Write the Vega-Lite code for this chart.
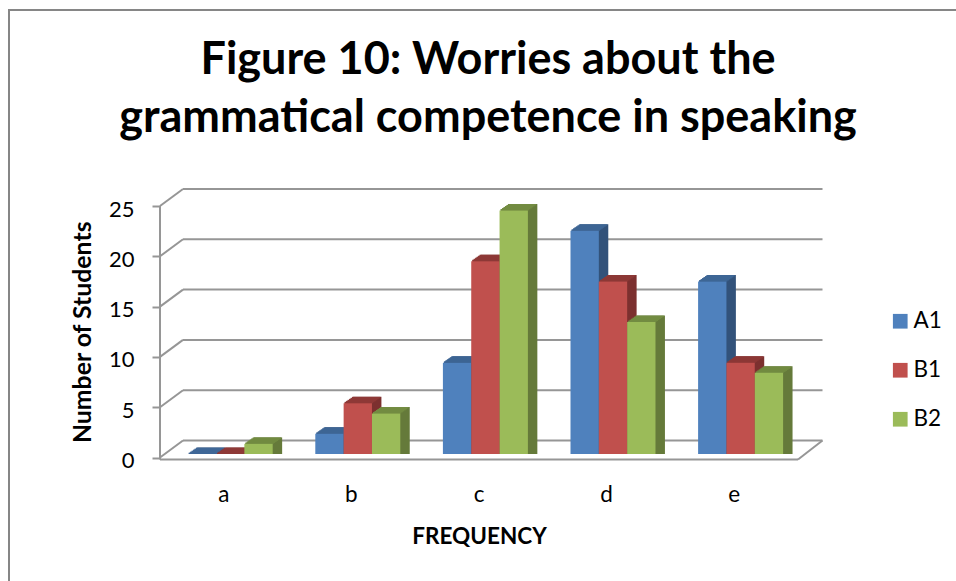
{"$schema":"https://vega.github.io/schema/vega-lite/v6.json","width":638,"height":251.5,"autosize":"none","padding":{"left":160,"top":206,"right":158,"bottom":123.5},"background":"white","view":{"stroke":null},
"title":{"text":["Figure 10: Worries about the","grammatical competence in speaking"],"font":"Lato","fontSize":45,"fontWeight":"bold","color":"#000000","lineHeight":58,"anchor":"middle","frame":"group","dx":9,"offset":-132},
"datasets":{"bars":[{"c":"a","s":"A1","v":0},{"c":"a","s":"B1","v":0},{"c":"a","s":"B2","v":1},{"c":"b","s":"A1","v":2},{"c":"b","s":"B1","v":5},{"c":"b","s":"B2","v":4},{"c":"c","s":"A1","v":9},{"c":"c","s":"B1","v":19},{"c":"c","s":"B2","v":24},{"c":"d","s":"A1","v":22},{"c":"d","s":"B1","v":17},{"c":"d","s":"B2","v":13},{"c":"e","s":"A1","v":17},{"c":"e","s":"B1","v":9},{"c":"e","s":"B2","v":8}],"grid":[{"g":0},{"g":5},{"g":10},{"g":15},{"g":20},{"g":25}]},
"resolve":{"scale":{"y":"independent"},"axis":{"y":"independent"}},
"layer":[
{"data":{"name":"grid"},"encoding":{"y":{"field":"g","type":"quantitative","scale":{"domain":[0,25]},"axis":{"title":"Number of Students","titleFont":"Lato","titleFontSize":24.8,"titleFontWeight":"bold","titleColor":"#000000","titlePadding":13,"labelFont":"Lato","labelFontSize":22,"labelColor":"#000000","labelPadding":18,"labelOffset":3,"tickSize":8,"tickColor":"#969696","tickWidth":2,"domain":false,"grid":false,"values":[0,5,10,15,20,25]}}},
"layer":[
{"mark":{"type":"rule","color":"#969696","strokeWidth":2,"yOffset":-17},"encoding":{"x":{"value":23},"x2":{"value":662.5}}},
{"mark":{"type":"rule","color":"#969696","strokeWidth":2,"y2Offset":-17},"encoding":{"x":{"value":0},"x2":{"value":23},"y2":{"field":"g"}}}
]},
{"data":{"values":[{"f":0}]},"encoding":{"y":{"datum":0,"type":"quantitative","scale":{"domain":[0,25]},"axis":null}},
"layer":[
{"mark":{"type":"rule","color":"#969696","strokeWidth":2,"yOffset":2},"encoding":{"x":{"value":0},"x2":{"value":638}}},
{"mark":{"type":"rule","color":"#969696","strokeWidth":2,"yOffset":2,"y2Offset":-17},"encoding":{"x":{"value":638},"x2":{"value":662.5},"y2":{"datum":0}}},
{"mark":{"type":"rule","color":"#969696","strokeWidth":2,"yOffset":2},"encoding":{"x":{"value":0},"y2":{"datum":25}}},
{"mark":{"type":"rule","color":"#868686","strokeWidth":2},"encoding":{"x":{"value":-151},"y":{"value":-196},"y2":{"value":375}}},
{"mark":{"type":"rule","color":"#868686","strokeWidth":2},"encoding":{"x":{"value":-152},"x2":{"value":796},"y":{"value":-196}}}
]},
{"data":{"name":"bars"},"encoding":{"x":{"field":"c","type":"nominal","scale":{"paddingInner":0,"paddingOuter":0},"axis":{"title":"FREQUENCY","titleFont":"Lato","titleFontSize":22.5,"titleFontWeight":"bold","titleColor":"#000000","titlePadding":19,"labelFont":"Lato","labelFontSize":22.5,"labelColor":"#000000","labelAngle":0,"labelPadding":26,"ticks":false,"domain":false}},"y":{"field":"v","type":"quantitative","stack":null,"scale":{"domain":[0,25],"range":[248,-5.75]},"axis":null}},
"layer":[
{"transform":[{"filter":"datum.s==='A1'"}],"layer":[
{"mark":{"type":"bar","width":28.33,"color":"#32527a","xOffset":-20.88,"yOffset":-0.72,"y2Offset":-0.72}},
{"mark":{"type":"bar","width":28.33,"color":"#32527a","xOffset":-19.83,"yOffset":-1.44,"y2Offset":-1.44}},
{"mark":{"type":"bar","width":28.33,"color":"#32527a","xOffset":-18.78,"yOffset":-2.16,"y2Offset":-2.16}},
{"mark":{"type":"bar","width":28.33,"color":"#32527a","xOffset":-17.73,"yOffset":-2.88,"y2Offset":-2.88}},
{"mark":{"type":"bar","width":28.33,"color":"#32527a","xOffset":-16.68,"yOffset":-3.6,"y2Offset":-3.6}},
{"mark":{"type":"bar","width":28.33,"color":"#32527a","xOffset":-15.63,"yOffset":-4.32,"y2Offset":-4.32}},
{"mark":{"type":"bar","width":28.33,"color":"#32527a","xOffset":-14.58,"yOffset":-5.04,"y2Offset":-5.04}},
{"mark":{"type":"bar","width":28.33,"color":"#32527a","xOffset":-13.53,"yOffset":-5.76,"y2Offset":-5.76}},
{"mark":{"type":"bar","width":28.33,"color":"#32527a","xOffset":-12.48,"yOffset":-6.48,"y2Offset":-6.48}},
{"mark":{"type":"bar","width":28.33,"color":"#3f6797","xOffset":-20.91,"yOffset":-1.4,"y2Offset":0},"encoding":{"y2":{"field":"v"}}},
{"mark":{"type":"bar","width":28.33,"color":"#3f6797","xOffset":-19.45,"yOffset":-2.4,"y2Offset":-1},"encoding":{"y2":{"field":"v"}}},
{"mark":{"type":"bar","width":28.33,"color":"#3f6797","xOffset":-17.99,"yOffset":-3.4,"y2Offset":-2},"encoding":{"y2":{"field":"v"}}},
{"mark":{"type":"bar","width":28.33,"color":"#3f6797","xOffset":-16.53,"yOffset":-4.4,"y2Offset":-3},"encoding":{"y2":{"field":"v"}}},
{"mark":{"type":"bar","width":28.33,"color":"#3f6797","xOffset":-15.08,"yOffset":-5.4,"y2Offset":-4},"encoding":{"y2":{"field":"v"}}},
{"mark":{"type":"bar","width":28.33,"color":"#3f6797","xOffset":-13.62,"yOffset":-6.4,"y2Offset":-5},"encoding":{"y2":{"field":"v"}}},
{"mark":{"type":"bar","width":28.33,"xOffset":-21.93},"encoding":{"color":{"field":"s","type":"nominal","scale":{"domain":["A1","B1","B2"],"range":["#4F81BD","#C0504D","#9BBB59"]},"legend":{"title":null,"orient":"none","legendX":729,"legendY":104,"symbolType":"square","symbolSize":216,"symbolStrokeWidth":0,"labelFont":"Lato","labelFontSize":22.5,"labelColor":"#000000","rowPadding":26,"labelOffset":2}}}}
]},
{"transform":[{"filter":"datum.s==='B1'"}],"layer":[
{"mark":{"type":"bar","width":28.33,"color":"#7c302f","xOffset":7.45,"yOffset":-0.72,"y2Offset":-0.72}},
{"mark":{"type":"bar","width":28.33,"color":"#7c302f","xOffset":8.5,"yOffset":-1.44,"y2Offset":-1.44}},
{"mark":{"type":"bar","width":28.33,"color":"#7c302f","xOffset":9.55,"yOffset":-2.16,"y2Offset":-2.16}},
{"mark":{"type":"bar","width":28.33,"color":"#7c302f","xOffset":10.6,"yOffset":-2.88,"y2Offset":-2.88}},
{"mark":{"type":"bar","width":28.33,"color":"#7c302f","xOffset":11.65,"yOffset":-3.6,"y2Offset":-3.6}},
{"mark":{"type":"bar","width":28.33,"color":"#7c302f","xOffset":12.7,"yOffset":-4.32,"y2Offset":-4.32}},
{"mark":{"type":"bar","width":28.33,"color":"#7c302f","xOffset":13.75,"yOffset":-5.04,"y2Offset":-5.04}},
{"mark":{"type":"bar","width":28.33,"color":"#7c302f","xOffset":14.8,"yOffset":-5.76,"y2Offset":-5.76}},
{"mark":{"type":"bar","width":28.33,"color":"#7c302f","xOffset":15.85,"yOffset":-6.48,"y2Offset":-6.48}},
{"mark":{"type":"bar","width":28.33,"color":"#8e3937","xOffset":7.42,"yOffset":-1.4,"y2Offset":0},"encoding":{"y2":{"field":"v"}}},
{"mark":{"type":"bar","width":28.33,"color":"#8e3937","xOffset":8.88,"yOffset":-2.4,"y2Offset":-1},"encoding":{"y2":{"field":"v"}}},
{"mark":{"type":"bar","width":28.33,"color":"#8e3937","xOffset":10.34,"yOffset":-3.4,"y2Offset":-2},"encoding":{"y2":{"field":"v"}}},
{"mark":{"type":"bar","width":28.33,"color":"#8e3937","xOffset":11.8,"yOffset":-4.4,"y2Offset":-3},"encoding":{"y2":{"field":"v"}}},
{"mark":{"type":"bar","width":28.33,"color":"#8e3937","xOffset":13.25,"yOffset":-5.4,"y2Offset":-4},"encoding":{"y2":{"field":"v"}}},
{"mark":{"type":"bar","width":28.33,"color":"#8e3937","xOffset":14.71,"yOffset":-6.4,"y2Offset":-5},"encoding":{"y2":{"field":"v"}}},
{"mark":{"type":"bar","width":28.33,"xOffset":6.4},"encoding":{"color":{"field":"s","type":"nominal"}}}
]},
{"transform":[{"filter":"datum.s==='B2'"}],"layer":[
{"mark":{"type":"bar","width":28.33,"color":"#657a3a","xOffset":35.78,"yOffset":-0.72,"y2Offset":-0.72}},
{"mark":{"type":"bar","width":28.33,"color":"#657a3a","xOffset":36.83,"yOffset":-1.44,"y2Offset":-1.44}},
{"mark":{"type":"bar","width":28.33,"color":"#657a3a","xOffset":37.88,"yOffset":-2.16,"y2Offset":-2.16}},
{"mark":{"type":"bar","width":28.33,"color":"#657a3a","xOffset":38.93,"yOffset":-2.88,"y2Offset":-2.88}},
{"mark":{"type":"bar","width":28.33,"color":"#657a3a","xOffset":39.98,"yOffset":-3.6,"y2Offset":-3.6}},
{"mark":{"type":"bar","width":28.33,"color":"#657a3a","xOffset":41.03,"yOffset":-4.32,"y2Offset":-4.32}},
{"mark":{"type":"bar","width":28.33,"color":"#657a3a","xOffset":42.08,"yOffset":-5.04,"y2Offset":-5.04}},
{"mark":{"type":"bar","width":28.33,"color":"#657a3a","xOffset":43.13,"yOffset":-5.76,"y2Offset":-5.76}},
{"mark":{"type":"bar","width":28.33,"color":"#657a3a","xOffset":44.18,"yOffset":-6.48,"y2Offset":-6.48}},
{"mark":{"type":"bar","width":28.33,"color":"#738c42","xOffset":35.75,"yOffset":-1.4,"y2Offset":0},"encoding":{"y2":{"field":"v"}}},
{"mark":{"type":"bar","width":28.33,"color":"#738c42","xOffset":37.21,"yOffset":-2.4,"y2Offset":-1},"encoding":{"y2":{"field":"v"}}},
{"mark":{"type":"bar","width":28.33,"color":"#738c42","xOffset":38.67,"yOffset":-3.4,"y2Offset":-2},"encoding":{"y2":{"field":"v"}}},
{"mark":{"type":"bar","width":28.33,"color":"#738c42","xOffset":40.13,"yOffset":-4.4,"y2Offset":-3},"encoding":{"y2":{"field":"v"}}},
{"mark":{"type":"bar","width":28.33,"color":"#738c42","xOffset":41.58,"yOffset":-5.4,"y2Offset":-4},"encoding":{"y2":{"field":"v"}}},
{"mark":{"type":"bar","width":28.33,"color":"#738c42","xOffset":43.04,"yOffset":-6.4,"y2Offset":-5},"encoding":{"y2":{"field":"v"}}},
{"mark":{"type":"bar","width":28.33,"xOffset":34.73},"encoding":{"color":{"field":"s","type":"nominal"}}}
]}
]}
]}
